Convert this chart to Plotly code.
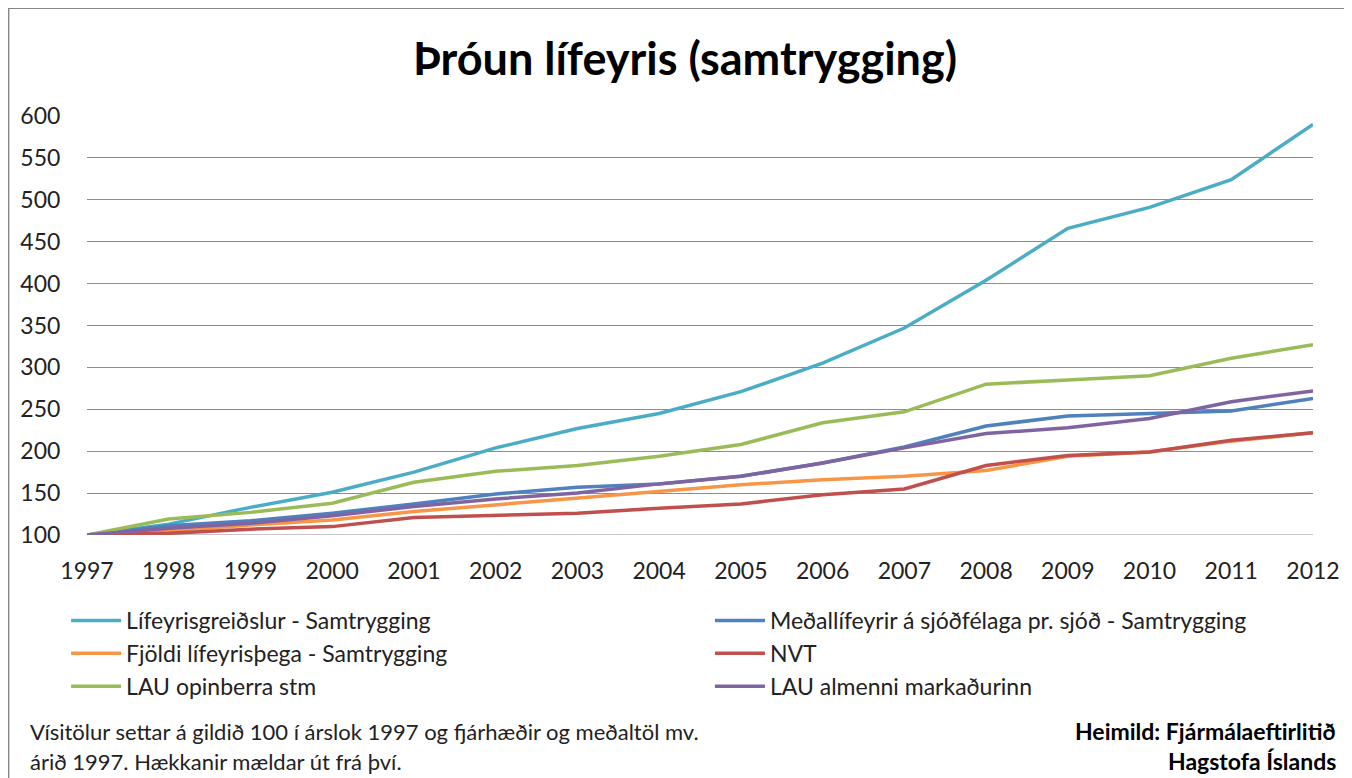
import plotly.graph_objects as go

years = list(range(1997, 2013))
lifeyrisgreidslur = [100, 113, 133, 151, 175, 204, 227, 245, 271, 305, 347, 404, 466, 491, 524, 590]
medallifeyrir = [100, 111, 117, 126, 137, 149, 157, 161, 170, 186, 205, 230, 242, 245, 248, 263]
fjoldi = [100, 105, 112, 118, 128, 136, 144, 153, 160, 166, 170, 177, 194, 199, 212, 222]
nvt = [100, 102, 107, 110, 121, 123, 126, 132, 137, 148, 155, 183, 195, 199, 213, 222]
lau_opinberra = [100, 119, 127, 138, 163, 176, 183, 194, 208, 234, 247, 280, 285, 290, 311, 327]
lau_almenni = [100, 108, 114, 123, 134, 143, 150, 161, 170, 186, 204, 221, 228, 239, 259, 272]

# (name, values, colour, legend column)
series = [
    ("Lífeyrisgreiðslur - Samtrygging", lifeyrisgreidslur, "#4BACC6", "legend"),
    ("Meðallífeyrir á sjóðfélaga pr. sjóð - Samtrygging", medallifeyrir, "#4F81BD", "legend2"),
    ("Fjöldi lífeyrisþega - Samtrygging", fjoldi, "#F79646", "legend"),
    ("NVT", nvt, "#C0504D", "legend2"),
    ("LAU opinberra stm", lau_opinberra, "#9BBB59", "legend"),
    ("LAU almenni markaðurinn", lau_almenni, "#8064A2", "legend2"),
]

FONT = "Lato, 'Open Sans', sans-serif"
W, H = 1344, 770           # page body has an 8px margin
L, R, T, B = 79, 33, 108, 243
PW, PH = W - L - R, H - T - B


def px(xfig):
    return (xfig - L) / PW


def py(yfig):
    return (H - B - yfig) / PH


fig = go.Figure()
for name, vals, col, leg in series:
    fig.add_trace(go.Scatter(x=years, y=vals, name=name, mode="lines", legend=leg,
                             line=dict(color=col, width=3.5)))

legend_common = dict(orientation="v", xanchor="left", yanchor="top",
                     itemwidth=50, font=dict(size=23, color="#222"),
                     bgcolor="rgba(0,0,0,0)", traceorder="normal")

fig.update_layout(
    width=W, height=H,
    margin=dict(l=L, r=R, t=T, b=B),
    paper_bgcolor="white", plot_bgcolor="white",
    font=dict(family=FONT, size=23, color="#222"),
    title=dict(text="<b>Þróun lífeyris (samtrygging)</b>", x=677 / W, xanchor="center",
               y=1 - 51 / H, yanchor="middle", font=dict(size=45, color="#000")),
    showlegend=True,
    legend=dict(x=px(58), y=py(591), **legend_common),
    legend2=dict(x=px(705), y=py(591), **legend_common),
    xaxis=dict(range=[1997, 2012], tickmode="array", tickvals=years,
               ticktext=[str(y) for y in years], showgrid=False, zeroline=False,
               showline=False, ticks="outside", ticklen=15, tickcolor="rgba(0,0,0,0)",
               tickfont=dict(size=23, color="#222")),
    yaxis=dict(range=[100, 600], tickmode="linear", tick0=100, dtick=50,
               showgrid=True, gridcolor="#8c8c8c", gridwidth=1, zeroline=False,
               showline=False, ticks="outside", ticklen=21, tickcolor="rgba(0,0,0,0)",
               tickfont=dict(size=23, color="#222")),
)

# bottom gridline at 100 (range edge)
fig.add_shape(type="line", xref="x", yref="y", x0=1997, x1=2012, y0=100, y1=100,
              line=dict(color="#8c8c8c", width=1), layer="below")

# chart frame
fig.add_shape(type="rect", xref="paper", yref="paper",
              x0=px(0), x1=px(W + 40), y0=py(H + 40), y1=py(0),
              line=dict(color="#868686", width=2))

fig.add_annotation(xref="paper", yref="paper", x=px(20), y=py(723),
                   xanchor="left", yanchor="middle", showarrow=False, align="left",
                   text="Vísitölur settar á gildið 100 í árslok 1997 og fjárhæðir og meðaltöl mv.",
                   font=dict(size=22, color="#222"))
fig.add_annotation(xref="paper", yref="paper", x=px(20), y=py(753),
                   xanchor="left", yanchor="middle", showarrow=False, align="left",
                   text="árið 1997. Hækkanir mældar út frá því.",
                   font=dict(size=22, color="#222"))
fig.add_annotation(xref="paper", yref="paper", x=px(1336), y=py(723),
                   xanchor="right", yanchor="middle", showarrow=False, align="right",
                   text="<b>Heimild: Fjármálaeftirlitið</b>",
                   font=dict(size=23, color="#000"))
fig.add_annotation(xref="paper", yref="paper", x=px(1336), y=py(753),
                   xanchor="right", yanchor="middle", showarrow=False, align="right",
                   text="<b>Hagstofa Íslands</b>",
                   font=dict(size=23, color="#000"))

fig.write_html("out.html")
